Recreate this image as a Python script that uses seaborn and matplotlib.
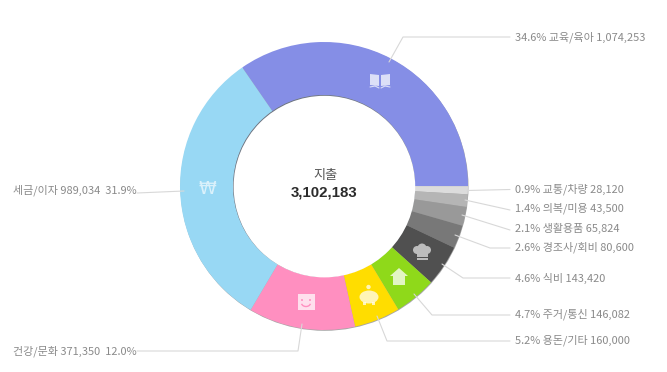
import matplotlib
matplotlib.use('Agg')
import matplotlib.pyplot as plt
from matplotlib.patches import Circle, Ellipse, Polygon, Rectangle, Arc
import seaborn as sns

sns.set_theme(style='white')
plt.rcParams['font.family'] = ['Noto Sans CJK KR', 'DejaVu Sans']

# data, clockwise from the top left edge of the first slice
categories = ['교육/육아', '교통/차량', '의복/미용', '생활용품', '경조사/회비',
              '식비', '주거/통신', '용돈/기타', '건강/문화', '세금/이자']
amounts = [1074253, 28120, 43500, 65824, 80600, 143420, 146082, 160000, 371350, 989034]
percents = ['34.6%', '0.9%', '1.4%', '2.1%', '2.6%', '4.6%', '4.7%', '5.2%', '12.0%', '31.9%']
total_label = '지출'
total_value = 3102183
colors = ['#858EE6', '#DCDCDC', '#B5B5B5', '#999999', '#787878',
          '#505050', '#8FD91A', '#FFDD00', '#FF8FC0', '#98D8F4']

CX, CY, R_OUT, R_IN = 324, 186, 144, 91

fig = plt.figure(figsize=(6.67, 3.72), dpi=100)
ax = fig.add_axes([0, 0, 1, 1])
ax.set_xlim(0, 667)
ax.set_ylim(0, 372)
ax.set_aspect('equal')
ax.axis('off')


def yy(y):
    # picture rows run downward, the axes run upward
    return 372 - y


# shadow under the ring
ax.add_patch(Circle((CX + 0.5, yy(CY + 0.8)), R_OUT, color='#000000', alpha=0.35, lw=0, zorder=1))

ax.pie(amounts, colors=sns.color_palette(colors), startangle=124.6, counterclock=False,
       center=(CX, yy(CY)), radius=R_OUT, frame=True,
       wedgeprops=dict(width=R_OUT - R_IN, linewidth=0, zorder=2))
ax.set_xlim(0, 667)
ax.set_ylim(0, 372)
ax.axis('off')

# inner edge of the hole
ax.add_patch(Circle((CX, yy(CY)), R_IN, color='#30405a', alpha=0.5, lw=0, zorder=3))
ax.add_patch(Circle((CX + 0.4, yy(CY + 0.6)), R_IN - 0.2, color='white', lw=0, zorder=4))

# leader lines
leaders = [
    [(389, 62), (403, 37), (510, 37)],
    [(467, 190.5), (510, 189.5)],
    [(465, 200), (510, 210)],
    [(462, 215), (510, 230)],
    [(455, 235), (490, 248), (510, 248)],
    [(442, 264), (463, 278), (510, 278)],
    [(414, 294), (432, 315), (510, 315)],
    [(377, 316), (387, 341), (510, 341)],
    [(302, 324), (298, 351), (137, 351)],
    [(184, 191), (137, 193)],
]
for pts in leaders:
    sns.lineplot(x=[p[0] for p in pts], y=[yy(p[1]) for p in pts], sort=False, estimator=None,
                 color='#D8D8D8', lw=0.8, ax=ax, zorder=5, legend=False)
ax.set_xlabel('')
ax.set_ylabel('')

# labels
label_y = [37, 189, 208, 228, 247, 278, 314, 340, 351, 190]
GRAY = '#8A8A8A'
for i, y in enumerate(label_y):
    amt = f'{amounts[i]:,}'
    if i < 8:
        ax.text(515, yy(y), f'{percents[i]} {categories[i]} {amt}', color=GRAY, fontsize=7.95,
                ha='left', va='center', zorder=6)
    else:
        ax.text(137, yy(y), f'{categories[i]} {amt}  {percents[i]}', color=GRAY, fontsize=7.95,
                ha='right', va='center', zorder=6)

ax.text(325, yy(175), total_label, color='#555555', fontsize=9.5, fontweight='medium',
        ha='center', va='center', zorder=6)
ax.text(324.5, yy(192.5), f'{total_value:,}', color='#2b2b2b', fontsize=10.8, fontweight='bold',
        family='Liberation Sans', ha='center', va='center', zorder=6)

# icons
ICON = dict(color='white', alpha=0.72, lw=0, zorder=6)


def book(x, y):
    ax.add_patch(Polygon([(x - 10, yy(y - 7)), (x - 1, yy(y - 6)), (x - 1, yy(y + 5)), (x - 10, yy(y + 4))], **ICON))
    ax.add_patch(Polygon([(x + 10, yy(y - 7)), (x + 1, yy(y - 6)), (x + 1, yy(y + 5)), (x + 10, yy(y + 4))], **ICON))
    ax.plot([x - 10, x - 5, x - 1], [yy(y + 6), yy(y + 5), yy(y + 7)], color='white', alpha=0.7, lw=0.8, zorder=6)
    ax.plot([x + 10, x + 5, x + 1], [yy(y + 6), yy(y + 5), yy(y + 7)], color='white', alpha=0.7, lw=0.8, zorder=6)


def smiley(x, y):
    ax.add_patch(Rectangle((x - 8.5, yy(y + 8)), 17, 16, **ICON))
    ax.add_patch(Circle((x - 4, yy(y - 2)), 1, color='#FF8FC0', lw=0, zorder=7))
    ax.add_patch(Circle((x + 4, yy(y - 2)), 1, color='#FF8FC0', lw=0, zorder=7))
    ax.add_patch(Arc((x, yy(y + 1)), 9, 7, theta1=190, theta2=350, color='#FF8FC0', lw=1, zorder=7))


def pig(x, y):
    ax.add_patch(Ellipse((x, yy(y + 1)), 19, 13, **ICON))
    ax.add_patch(Circle((x - 0.5, yy(y - 9)), 2.2, **ICON))
    ax.add_patch(Rectangle((x - 6, yy(y + 9)), 3, 3, **ICON))
    ax.add_patch(Rectangle((x + 3, yy(y + 9)), 3, 3, **ICON))


def house(x, y):
    ax.add_patch(Polygon([(x, yy(y - 9)), (x + 9, yy(y - 1)), (x + 6, yy(y - 1)), (x + 6, yy(y + 8)),
                          (x - 6, yy(y + 8)), (x - 6, yy(y - 1)), (x - 9, yy(y - 1))],
                         color='white', alpha=0.75, lw=0, zorder=6))


def hat(x, y):
    tone = dict(color='#BDBDBD', lw=0, zorder=6)
    ax.add_patch(Circle((x - 5, yy(y - 3)), 4, **tone))
    ax.add_patch(Circle((x + 5, yy(y - 3)), 4, **tone))
    ax.add_patch(Circle((x, yy(y - 5)), 4.5, **tone))
    ax.add_patch(Rectangle((x - 5.5, yy(y + 4)), 11, 7, **tone))
    ax.add_patch(Rectangle((x - 5.5, yy(y + 7)), 11, 2, **tone))


book(380, 81)
ax.text(207, yy(189), '₩', color='white', alpha=0.65, fontsize=13, fontweight='normal',
        ha='center', va='center', family='DejaVu Sans', zorder=6)
smiley(306, 302)
pig(369, 296)
house(399, 277)
hat(422, 253)

fig.savefig('out.png', dpi=100)
